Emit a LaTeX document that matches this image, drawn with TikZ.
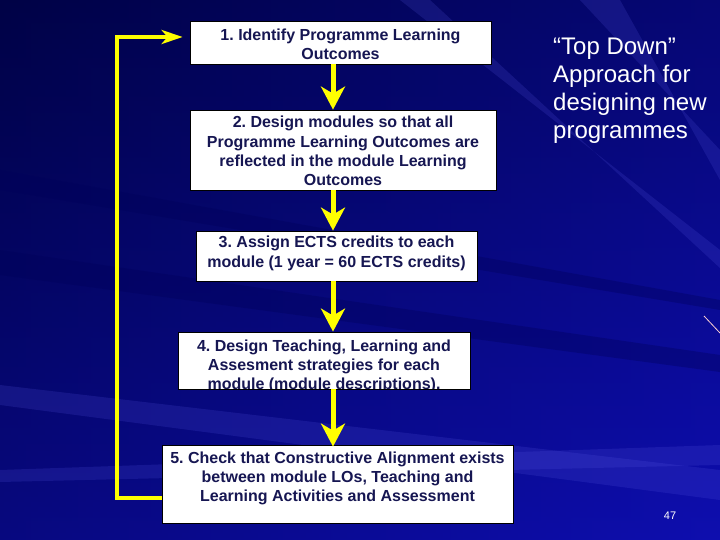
\documentclass[tikz,border=0pt]{standalone}
\usepackage{fontspec}
\setmainfont{Liberation Sans}
\usetikzlibrary{arrows.meta}
\definecolor{navytext}{RGB}{22,22,82}
\definecolor{bgdark}{RGB}{0,2,70}
\definecolor{bgmid}{RGB}{8,12,150}
\definecolor{bgbright}{RGB}{14,14,175}
\definecolor{raylight}{RGB}{90,90,230}
\definecolor{raydark}{RGB}{0,0,90}
\definecolor{arrowyellow}{RGB}{255,255,0}
\tikzset{
  stepbox/.style={draw=black, line width=0.8pt, fill=white, inner sep=0pt, rectangle},
  steptext/.style={text=navytext, align=center, inner sep=0pt,
    font=\fontsize{16}{19.3}\selectfont\bfseries},
  downarrow/.style={draw=arrowyellow, line width=5pt,
    -{Stealth[length=23pt, width=24pt, inset=7pt]}},
  looparrow/.style={draw=arrowyellow, line width=4.5pt,
    -{Stealth[length=21pt, width=14pt, inset=6pt]}},
  ray/.style={fill=raylight, opacity=0.18},
  darkray/.style={fill=raydark, opacity=0.35}
}
\begin{document}
\frenchspacing
\begin{tikzpicture}[x=1pt, y=-1pt]
\useasboundingbox (0,0) rectangle (720,540);
% background
\shade[top color=bgdark, middle color=bgmid, bottom color=bgbright] (0,0) rectangle (720,540);
\shade[left color=bgdark, right color=bgbright, opacity=0.45] (0,0) rectangle (720,540);
% light and dark rays
\fill[ray] (0,385) -- (720,470) -- (720,500) -- (0,405) -- cycle;
\fill[ray] (0,470) -- (720,445) -- (720,465) -- (0,482) -- cycle;
\fill[ray] (400,0) -- (720,250) -- (720,268) -- (430,0) -- cycle;
\fill[ray] (580,0) -- (720,150) -- (720,180) -- (620,0) -- cycle;
\fill[darkray] (0,250) -- (720,355) -- (720,372) -- (0,275) -- cycle;
\fill[darkray] (0,170) -- (720,300) -- (720,310) -- (0,190) -- cycle;
\draw[color=pink!70!white, line width=0.8pt] (704,316) -- (720,333);

% boxes
\node[stepbox, minimum width=301pt, minimum height=43pt] (b1) at (340.5,42.5) {};
\node[stepbox, minimum width=306pt, minimum height=80pt] (b2) at (343,150) {};
\node[stepbox, minimum width=281pt, minimum height=50pt] (b3) at (336.5,256) {};
\node[stepbox, minimum width=292pt, minimum height=57pt] (b4) at (324,360.5) {};
\node[stepbox, minimum width=351pt, minimum height=78pt] (b5) at (337.5,484) {};

% texts
\node[steptext] (t1) at (340.5,44) {1. Identify Programme Learning\\Outcomes};
\node[steptext] (t2) at (343,151) {2. Design modules so that all\\Programme Learning Outcomes are\\reflected in the module Learning\\Outcomes};
\node[steptext] (t3) at (336.5,253.5) {3. Assign ECTS credits to each\\module (1 year = 60 ECTS credits)};
\begin{scope}
\clip (178,332) rectangle (470,388.5);
\node[steptext] (t4) at (324,366.5) {4. Design Teaching, Learning and\\Assesment strategies for each\\module (module descriptions).};
\end{scope}
\node[steptext] (t5) at (337.5,478.5) {5. Check that Constructive Alignment exists\\between module LOs, Teaching and\\Learning Activities and Assessment};

% down arrows
\coordinate (ax) at (333,0);
\draw[downarrow] (b1.south -| ax) -- (b2.north -| ax);
\draw[downarrow] (b2.south -| ax) -- (b3.north -| ax);
\draw[downarrow] (b3.south -| ax) -- (b4.north -| ax);
\draw[downarrow] (b4.south -| ax) -- ([yshift=-2pt]b5.north -| ax);

% feedback loop
\coordinate (lb) at (117,498);
\coordinate (lt) at (117,37);
\draw[looparrow, line join=miter, shorten >=7pt] (b5.west |- lb) -- (lb) -- (lt) -- (b1.west |- lt);

% right-hand title
\node[text=white, align=left, anchor=north west, inner sep=0pt,
  font=\fontsize{24}{28}\selectfont] (title) at (553,38)
  {“Top Down”\\Approach for\\designing new\\programmes};
\node[text=white, font=\fontsize{11}{13}\selectfont] (pagenum) at (670,516) {47};
\end{tikzpicture}
\end{document}
